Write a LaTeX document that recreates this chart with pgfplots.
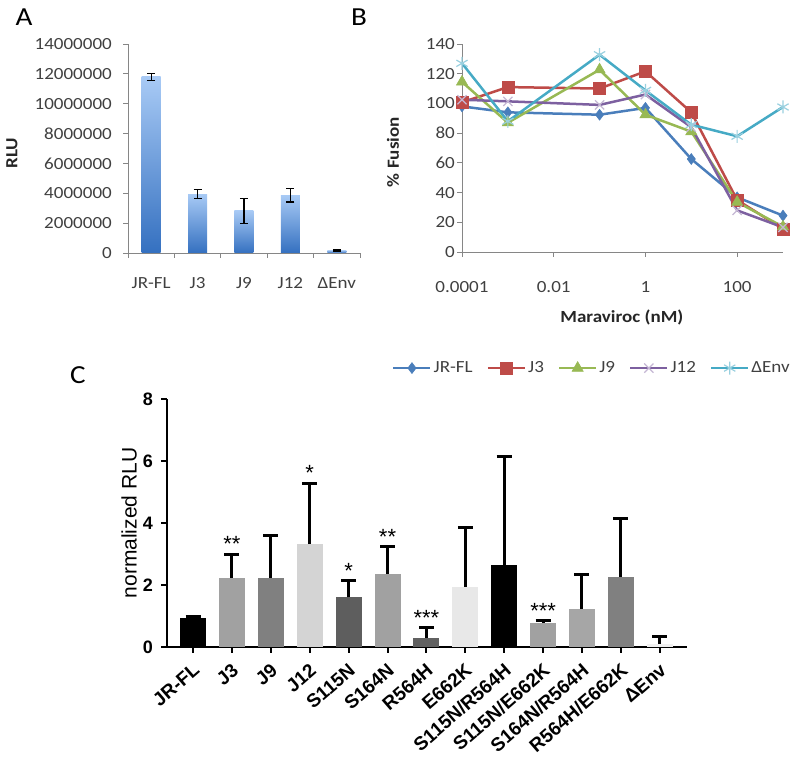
\documentclass[border=0pt]{standalone}
\usepackage{fontspec}
\usepackage{pgfplots}
\pgfplotsset{compat=1.18}
\setmainfont{Carlito}
\newfontfamily\calf[FakeStretch=1.12]{Carlito}
\newfontfamily\arf{Liberation Sans}
\definecolor{axgray}{HTML}{868686}
\definecolor{txt}{HTML}{404040}
\definecolor{cJR}{HTML}{4A7EBB}
\definecolor{cJ3}{HTML}{BE4B48}
\definecolor{cJ9}{HTML}{98B954}
\definecolor{cJ12}{HTML}{7D60A0}
\definecolor{cEnv}{HTML}{46AAC5}
\definecolor{barTop}{RGB}{168,202,245}
\definecolor{barBot}{RGB}{52,112,192}
\newcommand{\fA}{\calf\fontsize{17bp}{20bp}\selectfont}
\newcommand{\fAb}{\calf\bfseries\fontsize{17bp}{20bp}\selectfont}
\newcommand{\fP}{\calf\fontsize{26bp}{30bp}\selectfont}
\newcommand{\fCt}{\arf\bfseries\fontsize{18bp}{20bp}\selectfont}
\newcommand{\fCx}{\arf\bfseries\fontsize{19bp}{21bp}\selectfont}
\newcommand{\fCy}{\arf\fontsize{21bp}{24bp}\selectfont}
\newcommand{\fCs}{\arf\fontsize{22bp}{24bp}\selectfont}
\pgfplotsset{
  xlstyle/.style={
    scale only axis, axis x line*=bottom, axis y line*=left,
    axis line style={-, draw=axgray, line width=0.8bp},
    x axis line style={-}, y axis line style={-},
    tick align=outside, major tick length=5bp, tick style={draw=axgray, line width=0.8bp},
    ticklabel style={font=\fA, text=txt, inner sep=0pt},
    label style={font=\fAb, text=black!85},
  },
  abar/.style={/pgfplots/ybar, /pgfplots/bar width=19bp, /pgfplots/bar shift=0pt, draw=none,
    top color=barTop, bottom color=barBot},
  cbar/.style={/pgfplots/ybar, /pgfplots/bar width=26bp, /pgfplots/bar shift=0pt, draw=none,
    /pgfplots/error bars/y dir=plus, /pgfplots/error bars/y explicit,
    /pgfplots/error bars/error bar style={draw=black, line width=3bp},
    /pgfplots/error bars/error mark options={rotate=90, draw=black, mark size=7.5bp, line width=3bp}},
}
\begin{document}
\begin{tikzpicture}
\path[use as bounding box] (0,0) rectangle (793bp,757bp);
% ---------------- Panel A
\begin{axis}[xlstyle, at={(128bp,504bp)}, anchor=south west, width=232bp, height=209bp,
  xmin=-0.5, xmax=4.5, ymin=0, ymax=14000000,
  xtick={-0.5,0.5,1.5,2.5,3.5,4.5}, xticklabels={},
  extra x ticks={0,1,2,3,4}, extra x tick labels={JR-FL,J3,J9,J12,ΔEnv},
  extra x tick style={major tick length=0pt, xticklabel style={yshift=-24bp}},
  ytick={0,2000000,4000000,6000000,8000000,10000000,12000000,14000000},
  yticklabels={0,2000000,4000000,6000000,8000000,10000000,12000000,14000000},
  scaled y ticks=false,
  yticklabel style={xshift=-11bp},
  ylabel={RLU}, ylabel style={at={(axis description cs:-0.5,0.478)}, anchor=center},
]
\addplot[abar] coordinates {(0,11800000)};
\addplot[abar] coordinates {(1,3950000)};
\addplot[abar] coordinates {(2,2830000)};
\addplot[abar] coordinates {(3,3870000)};
\addplot[abar] coordinates {(4,190000)};
\addplot[draw=none, mark=none, error bars/.cd, y dir=both, y explicit,
  error bar style={draw=black, line width=1.3bp},
  error mark options={rotate=90, draw=black, mark size=4bp, line width=1.3bp}]
  coordinates {(0,11800000) +- (0,230000) (1,3950000) +- (0,300000) (2,2830000) +- (0,840000)
               (3,3870000) +- (0,460000) (4,190000) +- (0,60000)};
\end{axis}
% ---------------- Panel B
\begin{axis}[xlstyle, at={(462bp,505bp)}, anchor=south west, width=321bp, height=208bp,
  xmode=log, xmin=1e-4, xmax=1000, ymin=0, ymax=140, xminorticks=false,
  xtick={1e-4,1e-2,1,100}, xticklabels={0.0001,0.01,1,100},
  xticklabel style={yshift=-24bp},
  ytick={0,20,40,60,80,100,120,140}, yticklabels={0,20,40,60,80,100,120,140},
  yticklabel style={xshift=-2bp},
  ylabel={\% Fusion}, ylabel style={at={(axis description cs:-0.215,0.48)}, anchor=center},
  xlabel={Maraviroc (nM)}, xlabel style={at={(axis description cs:0.498,-0.317)}, anchor=center},
  legend columns=5,
  legend style={at={(axis description cs:0.405,-0.558)}, anchor=center, draw=none, fill=none,
    font=\fA, text=txt, inner sep=0pt, /tikz/every even column/.append style={column sep=12bp}},
  legend image code/.code={\draw[mark repeat=2, mark phase=2, #1] plot coordinates {(0bp,0bp)(18.5bp,0bp)(37bp,0bp)};},
]
\addplot[cJR, line width=2.5bp, mark=diamond*, mark size=5.5bp, mark options={solid, line width=0.5bp}]
  coordinates {(1e-4,98)(1e-3,94)(0.1,92.4)(1,97)(10,62.6)(100,36.8)(1000,24.5)};
\addlegendentry{JR-FL}
\addplot[cJ3, line width=2.5bp, mark=square*, mark size=6bp, mark options={solid, line width=0.5bp}]
  coordinates {(1e-4,100.7)(1e-3,111)(0.1,110)(1,121.6)(10,94)(100,35)(1000,15.5)};
\addlegendentry{J3}
\addplot[cJ9, line width=2.5bp, mark=triangle*, mark size=6.5bp, mark options={solid, line width=0.5bp}]
  coordinates {(1e-4,114.5)(1e-3,87)(0.1,122.7)(1,92.4)(10,81)(100,33.6)(1000,17)};
\addlegendentry{J9}
\addplot[cJ12, line width=2.5bp, mark=x, mark size=6.5bp, mark options={solid, line width=1.2bp, draw=cJ12!45!white}]
  coordinates {(1e-4,102.5)(1e-3,101.4)(0.1,99)(1,106)(10,84)(100,28)(1000,16.6)};
\addlegendentry{J12}
\addplot[cEnv, line width=2.5bp, mark=asterisk, mark size=6.5bp, mark options={solid, line width=1.2bp, draw=cEnv!55!white}]
  coordinates {(1e-4,127)(1e-3,88)(0.1,132.8)(1,108.8)(10,85.7)(100,77.9)(1000,97.6)};
\addlegendentry{ΔEnv}
\end{axis}
% ---------------- Panel C
\begin{axis}[at={(167bp,110bp)}, anchor=south west, scale only axis, width=520bp, height=248bp,
  xmin=-0.67, xmax=12.7, ymin=0, ymax=8,
  axis x line*=bottom, axis y line*=left, axis line style={-, black, line width=2bp},
  x axis line style={-}, y axis line style={-},
  tick align=outside, major tick length=6bp, tick style={black, line width=2bp},
  xtick={0,1,2,3,4,5,6,7,8,9,10,11,12},
  xticklabels={JR-FL,J3,J9,J12,S115N,S164N,R564H,E662K,S115N/R564H,S115N/E662K,S164N/R564H,R564H/E662K,ΔEnv},
  xticklabel style={font=\fCx, inner sep=0pt, anchor=north east, xshift=-1bp, yshift=-9bp, rotate=41},
  ytick={0,2,4,6,8}, yticklabels={0,2,4,6,8},
  yticklabel style={font=\fCt, inner sep=0pt, xshift=-8bp},
  ylabel={normalized RLU}, ylabel style={font=\fCy, at={(axis description cs:-0.073,0.5)}, anchor=center},
]
\addplot[cbar, fill=black] coordinates {(0,0.93) +- (0,0.07)};
\addplot[cbar, fill=black!37] coordinates {(1,2.24) +- (0,0.76)};
\addplot[cbar, fill=black!50] coordinates {(2,2.24) +- (0,1.35)};
\addplot[cbar, fill=black!17] coordinates {(3,3.32) +- (0,1.97)};
\addplot[cbar, fill=black!63] coordinates {(4,1.60) +- (0,0.53)};
\addplot[cbar, fill=black!37] coordinates {(5,2.37) +- (0,0.87)};
\addplot[cbar, fill=black!62] coordinates {(6,0.30) +- (0,0.32)};
\addplot[cbar, fill=black!9] coordinates {(7,1.95) +- (0,1.92)};
\addplot[cbar, fill=black] coordinates {(8,2.63) +- (0,3.51)};
\addplot[cbar, fill=black!37] coordinates {(9,0.78) +- (0,0.07)};
\addplot[cbar, fill=black!35] coordinates {(10,1.22) +- (0,1.12)};
\addplot[cbar, fill=black!50] coordinates {(11,2.27) +- (0,1.89)};
\addplot[cbar, fill=black!6] coordinates {(12,0.09) +- (0,0.26)};
\addplot[draw=none, mark=none, nodes near coords, point meta=explicit symbolic,
  every node near coord/.append style={font=\fCs, text=black, inner sep=0pt, anchor=south, yshift=2bp}]
  coordinates {(1,3.0)[**] (3,5.29)[*] (4,2.13)[*] (5,3.24)[**] (6,0.62)[***] (9,0.85)[***]};
\end{axis}
\node[font=\fP, text=black] at (24bp,740bp) {A};
\node[font=\fP, text=black] at (359bp,740bp) {B};
\node[font=\fP, text=black] at (78bp,382bp) {C};
\end{tikzpicture}
\end{document}
